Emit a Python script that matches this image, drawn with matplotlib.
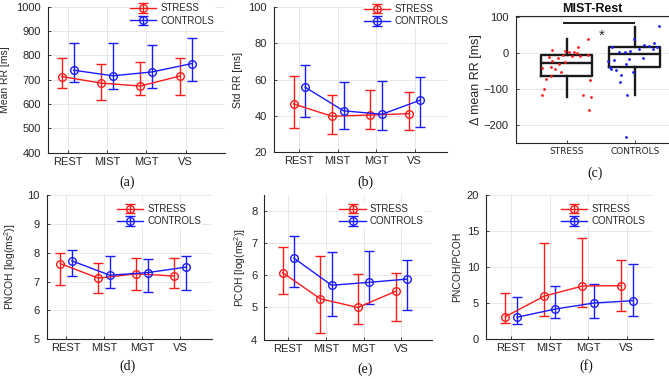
import matplotlib
matplotlib.use('Agg')
import matplotlib.pyplot as plt
import numpy as np

plt.rcParams['font.family'] = ['Liberation Sans', 'DejaVu Sans']
plt.rcParams['mathtext.fontset'] = 'custom'
plt.rcParams['mathtext.rm'] = 'Liberation Sans'
plt.rcParams['mathtext.it'] = 'Liberation Sans:italic'

# ---------------- data ----------------
conditions = ['REST', 'MIST', 'MGT', 'VS']
groups = ['STRESS', 'CONTROLS']

# (a) Mean RR [ms]
meanrr_stress = [713, 686, 674, 715]
meanrr_stress_lo = [665, 617, 636, 637]
meanrr_stress_hi = [790, 763, 771, 788]
meanrr_ctrl = [739, 716, 732, 766]
meanrr_ctrl_lo = [689, 661, 666, 693]
meanrr_ctrl_hi = [852, 852, 841, 870]

# (b) Std RR [ms]
stdrr_stress = [46.6, 39.8, 40.5, 41.2]
stdrr_stress_lo = [33.3, 30.0, 32.9, 32.0]
stdrr_stress_hi = [61.7, 51.6, 54.0, 53.2]
stdrr_ctrl = [55.8, 42.8, 40.9, 48.7]
stdrr_ctrl_lo = [39.3, 32.8, 32.4, 34.0]
stdrr_ctrl_hi = [68.2, 58.7, 59.2, 61.2]

# (c) MIST-Rest delta mean RR [ms] (box statistics + individual subjects)
box_q1 = [-64, -39]
box_med = [-26, -2]
box_q3 = [-3, 17]
box_whislo = [-122, -117]
box_whishi = [39, 74]
delta_stress = [39, 18, 10, 8, 3, 3, 2, -4, -7, -7, -5, -9, -12, -22, -28,
                -40, -37, -42, -52, -62, -72, -73, -99, -117, -115, -122, -157, -25]
delta_stress_x = [1.31, 1.17, 0.78, 0.97, 1.03, 1.11, 1.15, 0.94, 1.08, 1.19, 1.31,
                  0.74, 0.87, 0.79, 0.89, 0.64, 0.77, 0.83, 0.91, 0.77, 0.69, 1.34,
                  0.67, 0.63, 1.24, 1.36, 1.32, 0.98]
delta_ctrl = [76, 39, 19, 24, 29, 21, 19, 12, 13, 5, 6, 5, -17, -21, -16, -28,
              -12, -43, -46, -38, -53, -59, -80, -117, -232]
delta_ctrl_x = [2.36, 1.99, 1.67, 2.14, 2.28, 2.21, 2.33, 2.26, 2.06, 1.86, 1.93,
                1.77, 1.70, 1.61, 1.91, 1.87, 2.12, 1.65, 1.72, 1.63, 1.97, 1.80,
                1.78, 1.88, 1.87]

# (d) PNCOH [log(ms^2)]
pncoh_stress = [7.62, 7.12, 7.27, 7.19]
pncoh_stress_lo = [6.87, 6.61, 6.70, 6.79]
pncoh_stress_hi = [7.99, 7.63, 7.82, 7.82]
pncoh_ctrl = [7.72, 7.22, 7.31, 7.50]
pncoh_ctrl_lo = [7.18, 6.78, 6.65, 6.70]
pncoh_ctrl_hi = [8.10, 7.89, 7.78, 7.89]

# (e) PCOH [log(ms^2)]
pcoh_stress = [6.08, 5.27, 5.00, 5.50]
pcoh_stress_lo = [5.41, 4.22, 4.50, 4.59]
pcoh_stress_hi = [6.88, 6.60, 6.05, 6.06]
pcoh_ctrl = [6.53, 5.69, 5.78, 5.88]
pcoh_ctrl_lo = [5.62, 4.73, 5.12, 4.92]
pcoh_ctrl_hi = [7.22, 6.71, 6.75, 6.46]

# (f) PNCOH/PCOH
ratio_stress = [3.13, 5.96, 7.39, 7.43]
ratio_stress_lo = [2.30, 3.19, 4.44, 3.88]
ratio_stress_hi = [6.37, 13.3, 14.0, 10.95]
ratio_ctrl = [3.05, 4.20, 5.03, 5.35]
ratio_ctrl_lo = [2.08, 3.00, 2.91, 3.19]
ratio_ctrl_hi = [5.82, 7.35, 7.66, 10.48]

# ---------------- layout ----------------
W, H = 669, 379
fig = plt.figure(figsize=(W / 100, H / 100), dpi=100)

def rect(l, r, t, b):
    return [l / W, 1 - b / H, (r - l) / W, (b - t) / H]

RED = '#ff1a1a'
BLUE = '#1a1aff'
DARK = '#262626'
GRID = '#e3e3e3'
OFF = 0.15

def style(ax, box=False):
    for s in ['left', 'bottom']:
        ax.spines[s].set_color(DARK)
        ax.spines[s].set_linewidth(0.8)
    ax.spines['top'].set_visible(box)
    ax.spines['right'].set_visible(False)
    if box:
        ax.spines['top'].set_color(DARK)
        ax.spines['top'].set_linewidth(0.8)
    ax.tick_params(direction='in', length=2, width=0.6, colors=DARK, pad=3)
    ax.tick_params(axis='x', labelsize=8)
    ax.tick_params(axis='y', labelsize=8, pad=5)
    ax.set_axisbelow(True)

def line_panel(ax, s, slo, shi, c, clo, chi, ylim, yticks, ylabel, xlim,
               ylab_x, leg_anchor):
    x = np.arange(1, len(conditions) + 1)
    ys = np.array(s); yc = np.array(c)
    ax.errorbar(x - OFF, ys, yerr=[ys - np.array(slo), np.array(shi) - ys],
                color=RED, lw=1.0, marker='o', ms=5.5, mfc='none', mew=1.0,
                capsize=3.5, elinewidth=1.0, capthick=1.0, label=groups[0])
    ax.errorbar(x + OFF, yc, yerr=[yc - np.array(clo), np.array(chi) - yc],
                color=BLUE, lw=1.0, marker='o', ms=5.5, mfc='none', mew=1.0,
                capsize=3.5, elinewidth=1.0, capthick=1.0, label=groups[1])
    ax.set_xlim(*xlim)
    ax.set_ylim(*ylim)
    ax.set_yticks(yticks)
    ax.set_xticks(x)
    ax.set_xticklabels(conditions)
    ax.grid(True, color=GRID, lw=0.6)
    style(ax)
    ax.set_ylabel(ylabel, fontsize=7.5, color=DARK)
    ax.yaxis.set_label_coords(ylab_x, 0.5)
    leg = ax.legend(loc='upper left', bbox_to_anchor=leg_anchor,
                    bbox_transform=fig.transFigure, fontsize=7,
                    frameon=True, facecolor='white', edgecolor='none',
                    framealpha=1, borderpad=0.1, borderaxespad=0,
                    handlelength=2.7, handletextpad=0.4, labelspacing=0.25)
    for t in leg.get_texts():
        t.set_color(DARK)

# (a)
ax_a = fig.add_axes(rect(48, 225, 6.7, 152.7))
line_panel(ax_a, meanrr_stress, meanrr_stress_lo, meanrr_stress_hi,
           meanrr_ctrl, meanrr_ctrl_lo, meanrr_ctrl_hi,
           (400, 1000), np.arange(400, 1001, 100), 'Mean RR [ms]', (0.5, 5.0),
           -0.215, (129 / W, 1 - 2.5 / H))

# (b)
ax_b = fig.add_axes(rect(274, 447, 6.7, 152.3))
line_panel(ax_b, stdrr_stress, stdrr_stress_lo, stdrr_stress_hi,
           stdrr_ctrl, stdrr_ctrl_lo, stdrr_ctrl_hi,
           (20, 100), np.arange(20, 101, 20), 'Std RR [ms]', (0.343, 4.84),
           -0.18, (363 / W, 1 - 3 / H))

# (c)
ax_c = fig.add_axes(rect(515.7, 669, 15.7, 143.3))
stats = []
for i, g in enumerate(groups):
    stats.append(dict(label=g, med=box_med[i], q1=box_q1[i], q3=box_q3[i],
                      whislo=box_whislo[i], whishi=box_whishi[i], fliers=[]))
ax_c.bxp(stats, positions=[1, 2], widths=0.75, showcaps=False,
         boxprops=dict(color='#1a1a1a', lw=1.7),
         whiskerprops=dict(color='#1a1a1a', lw=1.7),
         medianprops=dict(color='#1a1a1a', lw=1.7))
ax_c.scatter(delta_stress_x, delta_stress, s=4, color=RED, zorder=3, lw=0)
ax_c.scatter(delta_ctrl_x, delta_ctrl, s=4, color=BLUE, zorder=3, lw=0)
ax_c.plot([0.96, 1.98], [86, 86], color='#1a1a1a', lw=1.4)
ax_c.text(1.515, 50, '*', ha='center', va='center', fontsize=11, color=DARK)
ax_c.set_xlim(0.25, 2.5)
ax_c.set_ylim(-250, 105)
ax_c.set_yticks([-200, -100, 0, 100])
ax_c.grid(True, axis='y', color=GRID, lw=0.6)
style(ax_c, box=True)
ax_c.tick_params(axis='x', labelsize=6.5)
ax_c.tick_params(axis='y', labelsize=8)
for t in ax_c.get_xticklabels():
    t.set_fontfamily('DejaVu Sans')
ax_c.set_title('MIST-Rest', fontsize=9, fontweight='bold', pad=3, color='#111111')
ax_c.set_ylabel('Δ mean RR [ms]', fontsize=9, color=DARK)
ax_c.yaxis.set_label_coords(-0.222, 0.5)

# (d)
ax_d = fig.add_axes(rect(46.7, 212.3, 195, 339.3))
line_panel(ax_d, pncoh_stress, pncoh_stress_lo, pncoh_stress_hi,
           pncoh_ctrl, pncoh_ctrl_lo, pncoh_ctrl_hi,
           (5, 10), np.arange(5, 11, 1), 'PNCOH [log(ms$^2$)]', (0.49, 4.85),
           -0.171, (116 / W, 1 - 203 / H))

# (e)
ax_e = fig.add_axes(rect(264.3, 432, 195, 339.7))
line_panel(ax_e, pcoh_stress, pcoh_stress_lo, pcoh_stress_hi,
           pcoh_ctrl, pcoh_ctrl_lo, pcoh_ctrl_hi,
           (4, 8.49), np.arange(4, 9, 1), 'PCOH [log(ms$^2$)]', (0.362, 4.82),
           -0.097, (338.5 / W, 1 - 203 / H))

# (f)
ax_f = fig.add_axes(rect(486, 653, 195, 339.3))
line_panel(ax_f, ratio_stress, ratio_stress_lo, ratio_stress_hi,
           ratio_ctrl, ratio_ctrl_lo, ratio_ctrl_hi,
           (0, 20), np.arange(0, 21, 5), 'PNCOH/PCOH', (0.35, 4.68),
           -0.14, (560 / W, 1 - 203 / H))

# captions
caps = [('(a)', 127, 182), ('(b)', 365, 182.5), ('(c)', 595, 173.5),
        ('(d)', 128, 366.5), ('(e)', 365, 369), ('(f)', 586, 366.5)]
for txt, x, y in caps:
    fig.text(x / W, 1 - y / H, txt, ha='center', va='center', fontsize=10,
             family='Liberation Serif', color='#111111')

fig.savefig('out.png', dpi=100)
